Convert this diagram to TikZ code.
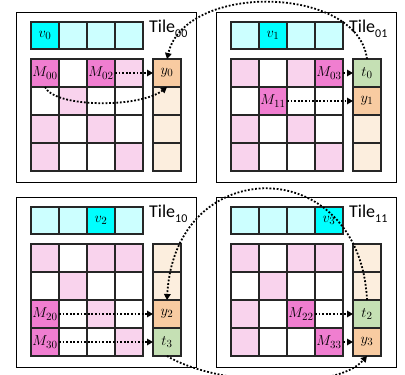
\documentclass[tikz,border=0pt]{standalone}
\usepackage{fontspec}
\newfontfamily\tilefont{Carlito}
\usetikzlibrary{arrows.meta}

\definecolor{vl}{HTML}{CCFFFF}
\definecolor{vh}{HTML}{00FFFF}
\definecolor{ml}{HTML}{F9D3ED}
\definecolor{mh}{HTML}{F07ED0}
\definecolor{wh}{HTML}{FFFFFF}
\definecolor{yl}{HTML}{FCEEDE}
\definecolor{yh}{HTML}{F8CBA1}
\definecolor{yg}{HTML}{C5E0B4}

\tikzset{
  cellbox/.style={draw=black!85, line width=1.1pt, minimum width=28pt,
    minimum height=28pt, inner sep=0pt, outer sep=0pt, anchor=north west,
    font=\fontsize{15}{15}\selectfont},
  vbox/.style={cellbox, minimum height=27pt},
  tilebox/.style={draw=black, line width=1.2pt, minimum width=180pt,
    minimum height=170pt, inner sep=0pt, anchor=north west},
  tilename/.style={anchor=base west, inner sep=0pt,
    font=\tilefont\fontsize{18}{18}\selectfont},
  flow/.style={line width=1.8pt, dash pattern=on 1.8pt off 1.8pt,
    -{Triangle[length=6pt,width=6.5pt]}},
}

% #1 name, #2/#3 top-left corner, #4 tile index,
% #5 vector cells, #6 matrix rows, #7 output cells (fill/label pairs)
\newcommand\tile[7]{%
  \begin{scope}[shift={(#2,#3)}]
    \node[tilebox] (#1) at (0,0) {};
    \node[tilename] (#1-name) at (133,20)
      {Tile\raisebox{-0.3em}{\fontsize{12}{12}\selectfont #4}};
    \foreach \f/\t [count=\c from 0] in {#5}
      \node[vbox, fill=\f] (#1-v\c) at ({15+28*\c},10) {\t};
    \foreach \row [count=\r from 0] in {#6}
      \foreach \f/\t [count=\c from 0] in \row
        \node[cellbox, fill=\f] (#1-m\r\c) at ({15+28*\c},{47+28*\r}) {\t};
    \foreach \f/\t [count=\r from 0] in {#7}
      \node[cellbox, fill=\f] (#1-y\r) at (137,{47+28*\r}) {\t};
  \end{scope}}

\begin{document}
\begin{tikzpicture}[x=1pt,y=-1pt]
\useasboundingbox (0,0) rectangle (405,375);
\clip (0,0) rectangle (405,375);

\tile{t00}{16}{12}{00}
  {vh/$v_0$,vl/{},vl/{},vl/{}}
  {{mh/$M_{00}$,wh/{},mh/$M_{02}$,ml/{}},
   {wh/{},ml/{},wh/{},wh/{}},
   {ml/{},wh/{},ml/{},wh/{}},
   {ml/{},wh/{},wh/{},ml/{}}}
  {yh/$y_0$,yl/{},yl/{},yl/{}}

\tile{t01}{216}{12}{01}
  {vl/{},vh/$v_1$,vl/{},vl/{}}
  {{ml/{},wh/{},ml/{},mh/$M_{03}$},
   {wh/{},mh/$M_{11}$,wh/{},wh/{}},
   {ml/{},wh/{},ml/{},wh/{}},
   {ml/{},wh/{},wh/{},ml/{}}}
  {yg/$t_0$,yh/$y_1$,yl/{},yl/{}}

\tile{t10}{16}{197}{10}
  {vl/{},vl/{},vh/$v_2$,vl/{}}
  {{ml/{},wh/{},ml/{},ml/{}},
   {wh/{},ml/{},wh/{},wh/{}},
   {mh/$M_{20}$,wh/{},ml/{},wh/{}},
   {mh/$M_{30}$,wh/{},wh/{},ml/{}}}
  {yl/{},yl/{},yh/$y_2$,yg/$t_3$}

\tile{t11}{216}{197}{11}
  {vl/{},vl/{},vl/{},vh/$v_3$}
  {{ml/{},wh/{},ml/{},ml/{}},
   {wh/{},ml/{},wh/{},wh/{}},
   {ml/{},wh/{},mh/$M_{22}$,wh/{}},
   {ml/{},wh/{},wh/{},mh/$M_{33}$}}
  {yl/{},yl/{},yg/$t_2$,yh/$y_3$}

% partial products inside each tile
\draw[flow] (t00-m00.south) .. controls (55,108) and (140,108) .. (t00-y0.south);
\draw[flow] (t00-m02.east) -- (t00-y0.west);
\draw[flow] (t01-m03.east) -- (t01-y0.west);
\draw[flow] (t01-m11.east) -- (t01-y1.west);
\draw[flow] (t10-m20.east) -- (t10-y2.west);
\draw[flow] (t10-m30.east) -- (t10-y3.west);
\draw[flow] (t11-m22.east) -- (t11-y2.west);
\draw[flow] (t11-m33.east) -- (t11-y3.west);

% reductions across tiles
\draw[flow] (t01-y0.north) .. controls (358,-15) and (185,-18) .. (t00-y0.north);
\draw[flow] (t11-y2.north) .. controls (360,152) and (175,152) .. (t10-y2.north);
\draw[flow] (t10-y3.south) .. controls (215,385) and (335,392) .. (t11-y3.south);
\end{tikzpicture}
\end{document}
